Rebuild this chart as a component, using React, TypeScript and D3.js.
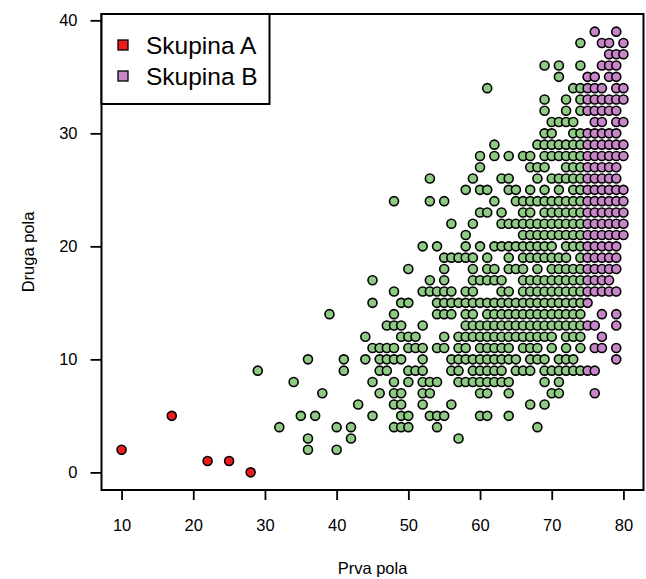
import { useRef, useEffect } from 'react';
import * as d3 from 'd3';

// Skupina A
const groupAX = [10, 17, 22, 25, 28];
const groupAY = [2, 5, 1, 1, 0];

// ostali: [druga pola, prva pola...]
const otherRows: [number, number[]][] = [
  [2, [36, 40]],
  [3, [36, 42, 57]],
  [4, [32, 40, 42, 48, 49, 50, 54, 68]],
  [5, [35, 37, 45, 49, 50, 53, 54, 55, 60, 61, 64]],
  [6, [43, 48, 49, 52, 56, 67, 69]],
  [7, [38, 46, 48, 49, 52, 53, 60, 61, 64, 70, 71]],
  [8, [34, 45, 48, 50, 52, 53, 54, 57, 58, 59, 60, 61, 62, 63, 64, 69, 71]],
  [9, [29, 41, 46, 47, 50, 51, 52, 56, 57, 59, 60, 61, 62, 63, 65, 66, 67, 69, 70, 71, 72, 73, 74]],
  [10, [36, 41, 44, 46, 47, 48, 49, 52, 56, 57, 58, 59, 60, 61, 62, 63, 64, 65, 67, 68, 69, 71, 72, 73]],
  [11, [45, 46, 47, 48, 50, 51, 52, 54, 55, 57, 58, 60, 61, 62, 63, 64, 66, 67, 68, 70, 72, 74]],
  [12, [44, 49, 50, 51, 55, 57, 58, 59, 60, 61, 62, 63, 64, 65, 66, 67, 68, 69, 70, 72, 73, 74]],
  [13, [47, 48, 49, 52, 58, 59, 60, 61, 62, 63, 64, 65, 66, 67, 68, 69, 70, 71, 72, 73, 74]],
  [14, [39, 48, 54, 55, 56, 58, 59, 61, 62, 63, 64, 65, 66, 67, 68, 69, 70, 71, 72, 73, 74]],
  [15, [45, 49, 50, 54, 55, 56, 57, 58, 59, 60, 61, 62, 63, 64, 65, 66, 67, 68, 69, 70, 71, 72, 73, 74]],
  [16, [48, 52, 53, 54, 55, 56, 58, 59, 63, 64, 66, 67, 68, 69, 70, 71, 72, 73, 74]],
  [17, [45, 53, 55, 59, 60, 61, 62, 63, 66, 67, 68, 69, 70, 71, 72, 73, 74]],
  [18, [50, 55, 59, 61, 62, 64, 65, 66, 68, 70, 71, 72, 73, 74]],
  [19, [55, 56, 57, 58, 59, 61, 64, 66, 67, 68, 69, 70, 71, 72, 74]],
  [20, [52, 54, 58, 60, 62, 63, 64, 65, 66, 67, 68, 69, 70, 72, 73, 74]],
  [21, [58, 66, 67, 68, 69, 70, 71, 72, 73, 74]],
  [22, [56, 59, 63, 64, 65, 66, 67, 68, 69, 70, 71, 72, 73, 74]],
  [23, [60, 61, 63, 66, 67, 69, 70, 71, 72, 73, 74]],
  [24, [48, 53, 55, 62, 65, 66, 67, 68, 69, 70, 71, 72, 73, 74]],
  [25, [58, 60, 61, 64, 65, 67, 69, 71, 73, 74]],
  [26, [53, 59, 63, 64, 68, 70, 71, 72, 73, 74]],
  [27, [60, 67, 68, 69, 72, 73, 74]],
  [28, [60, 62, 64, 66, 67, 69, 70, 71, 72, 73, 74]],
  [29, [62, 68, 69, 70, 71, 72, 73, 74]],
  [30, [69, 70, 73, 74]],
  [31, [70, 71, 72, 73]],
  [32, [69, 72, 74]],
  [33, [69, 72, 74]],
  [34, [61, 73, 74]],
  [35, [71]],
  [36, [69, 71, 74]],
  [38, [74]],
];

// Skupina B
const groupBRows: [number, number[]][] = [
  [7, [76]],
  [9, [75, 76]],
  [10, [79]],
  [11, [76, 77, 79]],
  [12, [77]],
  [13, [75, 76, 79]],
  [14, [77, 79]],
  [15, [75]],
  [16, [75, 76, 77, 78, 79]],
  [17, [75, 76, 77, 78]],
  [18, [75, 76, 77, 78, 79]],
  [19, [75, 76, 77, 78, 79]],
  [20, [75, 76, 77, 78, 79]],
  [21, [75, 76, 77, 78, 79, 80]],
  [22, [75, 76, 77, 78, 79, 80]],
  [23, [75, 76, 77, 78, 79, 80]],
  [24, [75, 76, 77, 78, 79, 80]],
  [25, [75, 76, 77, 78, 79, 80]],
  [26, [75, 76, 77, 78, 79]],
  [27, [75, 76, 77, 78, 79]],
  [28, [75, 76, 77, 78, 79, 80]],
  [29, [75, 76, 77, 78, 79, 80]],
  [30, [75, 76, 77, 78, 79]],
  [31, [76, 77, 79, 80]],
  [32, [75, 76, 77, 78, 79]],
  [33, [75, 76, 77, 78, 79, 80]],
  [34, [75, 76, 77, 79, 80]],
  [35, [75, 76, 78, 79]],
  [36, [77, 78, 79]],
  [37, [78, 79, 80]],
  [38, [77, 78, 80]],
  [39, [76, 79]],
];

const xTicks = [10, 20, 30, 40, 50, 60, 70, 80];
const yTicks = [0, 10, 20, 30, 40];
const legendLabels = ['Skupina A', 'Skupina B'];
const legendColors = ['#ee1c1c', '#c886c8'];
const otherColor = '#8fca85';

const FONT = '"Liberation Sans", Arial, Helvetica, sans-serif';

export default function App() {
  const ref = useRef<SVGSVGElement>(null);

  useEffect(() => {
    const svg = d3.select(ref.current);
    svg.selectAll('*').remove();

    const width = 646;
    const height = 579;
    const box = { left: 101.5, right: 643.5, top: 14, bottom: 490 };

    const x = d3.scaleLinear().domain([7.2, 82.8]).range([box.left, box.right]);
    const y = d3.scaleLinear().domain([-1.56, 40.56]).range([box.bottom, box.top]);

    svg.attr('width', width).attr('height', height);
    svg.append('rect').attr('width', width).attr('height', height).attr('fill', '#fff');

    const toPoints = (rows: [number, number[]][]) =>
      rows.flatMap(([yv, xs]) => xs.map(xv => ({ x: xv, y: yv })));

    const others = toPoints(otherRows);
    const groupB = toPoints(groupBRows);
    const groupA = groupAX.map((xv, i) => ({ x: xv, y: groupAY[i] }));

    const drawPoints = (pts: { x: number; y: number }[], fill: string) => {
      svg.append('g')
        .selectAll('circle')
        .data(pts)
        .join('circle')
        .attr('cx', d => x(d.x))
        .attr('cy', d => y(d.y))
        .attr('r', 4.5)
        .attr('fill', fill)
        .attr('stroke', '#000')
        .attr('stroke-width', 1.6);
    };
    drawPoints(others, otherColor);
    drawPoints(groupB, legendColors[1]);
    drawPoints(groupA, legendColors[0]);

    // axes
    const xAxis = svg.append('g')
      .attr('transform', `translate(0,${box.bottom})`)
      .call(d3.axisBottom(x).tickValues(xTicks).tickSize(10).tickPadding(19).tickSizeOuter(0));
    const yAxis = svg.append('g')
      .attr('transform', `translate(${box.left},0)`)
      .call(d3.axisLeft(y).tickValues(yTicks).tickSize(11).tickPadding(13).tickSizeOuter(0));
    [xAxis, yAxis].forEach(a => {
      a.select('.domain').remove();
      a.selectAll('.tick line').attr('stroke', '#000').attr('stroke-width', 1.8);
      a.selectAll('.tick text')
        .attr('fill', '#000')
        .attr('font-family', FONT)
        .attr('font-size', 16.5);
    });

    // frame
    svg.append('rect')
      .attr('x', box.left).attr('y', box.top)
      .attr('width', box.right - box.left).attr('height', box.bottom - box.top)
      .attr('fill', 'none').attr('stroke', '#000').attr('stroke-width', 2);

    // titles
    svg.append('text')
      .attr('x', (box.left + box.right) / 2).attr('y', 574)
      .attr('text-anchor', 'middle')
      .attr('font-family', FONT).attr('font-size', 16.5)
      .text('Prva pola');
    svg.append('text')
      .attr('transform', `translate(34,${(box.top + box.bottom) / 2}) rotate(-90)`)
      .attr('text-anchor', 'middle')
      .attr('font-family', FONT).attr('font-size', 16.5)
      .text('Druga pola');

    // legend
    const lg = svg.append('g');
    lg.append('rect')
      .attr('x', box.left).attr('y', box.top)
      .attr('width', 168).attr('height', 90)
      .attr('fill', '#fff').attr('stroke', '#000').attr('stroke-width', 2);
    legendLabels.forEach((lab, i) => {
      const cy = 45 + i * 31;
      lg.append('rect')
        .attr('x', 123 - 5).attr('y', cy - 5)
        .attr('width', 10).attr('height', 10)
        .attr('fill', legendColors[i]).attr('stroke', '#000').attr('stroke-width', 1.3);
      lg.append('text')
        .attr('x', 146).attr('y', cy)
        .attr('dominant-baseline', 'central')
        .attr('font-family', FONT).attr('font-size', 24.5)
        .text(lab);
    });
  }, []);

  return (
    <div style={{ position: 'absolute', left: 0, top: 0 }}>
      <svg ref={ref} style={{ display: 'block' }}></svg>
    </div>
  );
}
